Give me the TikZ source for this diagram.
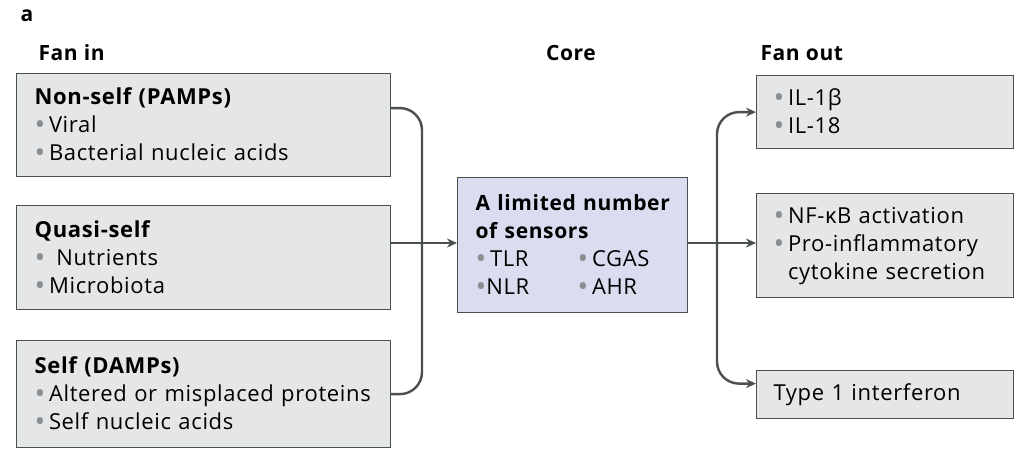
\documentclass[tikz,border=0pt]{standalone}
\usepackage{fontspec}
\usepackage{graphicx}
\setmainfont{Open Sans}[LetterSpace=3]
\usetikzlibrary{arrows.meta}

\definecolor{boxgray}{HTML}{E4E6E8}
\definecolor{boxblue}{HTML}{DADCEF}
\definecolor{linegray}{HTML}{4A4F4F}
\definecolor{dotgray}{HTML}{8A8E90}

\newcommand{\dotmark}{\textcolor{dotgray}{\raisebox{-2pt}{\scalebox{1.3}{\textbullet}}}}
\newcommand{\bul}{\dotmark\,}

\tikzset{
  box/.style={draw=linegray, line width=1.2pt, fill=boxgray, anchor=north west,
    align=left, inner xsep=18pt, inner ysep=0pt, font=\fontsize{22}{28}\selectfont},
  conn/.style={draw=linegray, line width=2.4pt, rounded corners=22pt},
  arr/.style={conn, -{Stealth[length=10pt,width=9pt]}},
  head/.style={font=\fontsize{21}{24}\selectfont\bfseries, anchor=base west},
}

\begin{document}
\begin{tikzpicture}[x=1pt,y=-1pt]
  \useasboundingbox (0,0) rectangle (1022,451);

  % headings
  \node[head] (lbl) at (17,21) {a};
  \node[head] (fanin) at (35,60) {Fan in};
  \node[head, anchor=base] (core) at (571,60) {Core};
  \node[head] (fanout) at (757,60) {Fan out};

  % fan in
  \node[box, text width=338pt, minimum height=103pt] (pamp) at (16,73)
    {\textbf{Non-self (PAMPs)}\\ \bul Viral\\ \bul Bacterial nucleic acids};
  \node[box, text width=338pt, minimum height=104pt] (quasi) at (16,205)
    {\textbf{Quasi-self}\\ \bul\ Nutrients\\ \bul Microbiota};
  \node[box, text width=338pt, minimum height=107pt] (damp) at (16,340)
    {\textbf{Self (DAMPs)}\\ \bul Altered or misplaced proteins\\ \bul Self nucleic acids};

  % core
  \node[box, fill=boxblue, text width=194pt, minimum height=135pt] (sensor) at (457,177)
    {\mbox{\fontsize{21}{28}\selectfont\bfseries A limited number}\\
     \mbox{\fontsize{21}{28}\selectfont\bfseries of sensors}\\
     \makebox[102pt][l]{\bul TLR}\bul CGAS\\
     \makebox[102pt][l]{\dotmark NLR}\bul AHR};

  % fan out
  \node[box, inner xsep=17pt, text width=223pt, minimum height=73pt] (il) at (756,75)
    {\bul IL-1β\\ \bul IL-18};
  \node[box, inner xsep=17pt, text width=223pt, minimum height=104pt] (nfkb) at (756,193)
    {\bul NF-κB activation\\ \bul Pro-inflammatory\\ \phantom{\bul}cytokine secretion};
  \node[box, inner xsep=17pt, text width=223pt, minimum height=48pt] (ifn) at (756,370)
    {Type 1 interferon};

  \coordinate (jin) at (422,243);
  \coordinate (jout) at (717,243);

  \draw[conn] ([yshift=17pt]pamp.east) -| (jin) |- (damp.east);
  \draw[arr] (quasi.east |- jin) -- (sensor.west |- jin);
  \draw[arr] (sensor.east |- jin) -- (nfkb.west |- jin);
  \draw[arr] (jout) |- (il.west);
  \draw[arr] (jout) |- ([yshift=11pt]ifn.west);
\end{tikzpicture}
\end{document}
